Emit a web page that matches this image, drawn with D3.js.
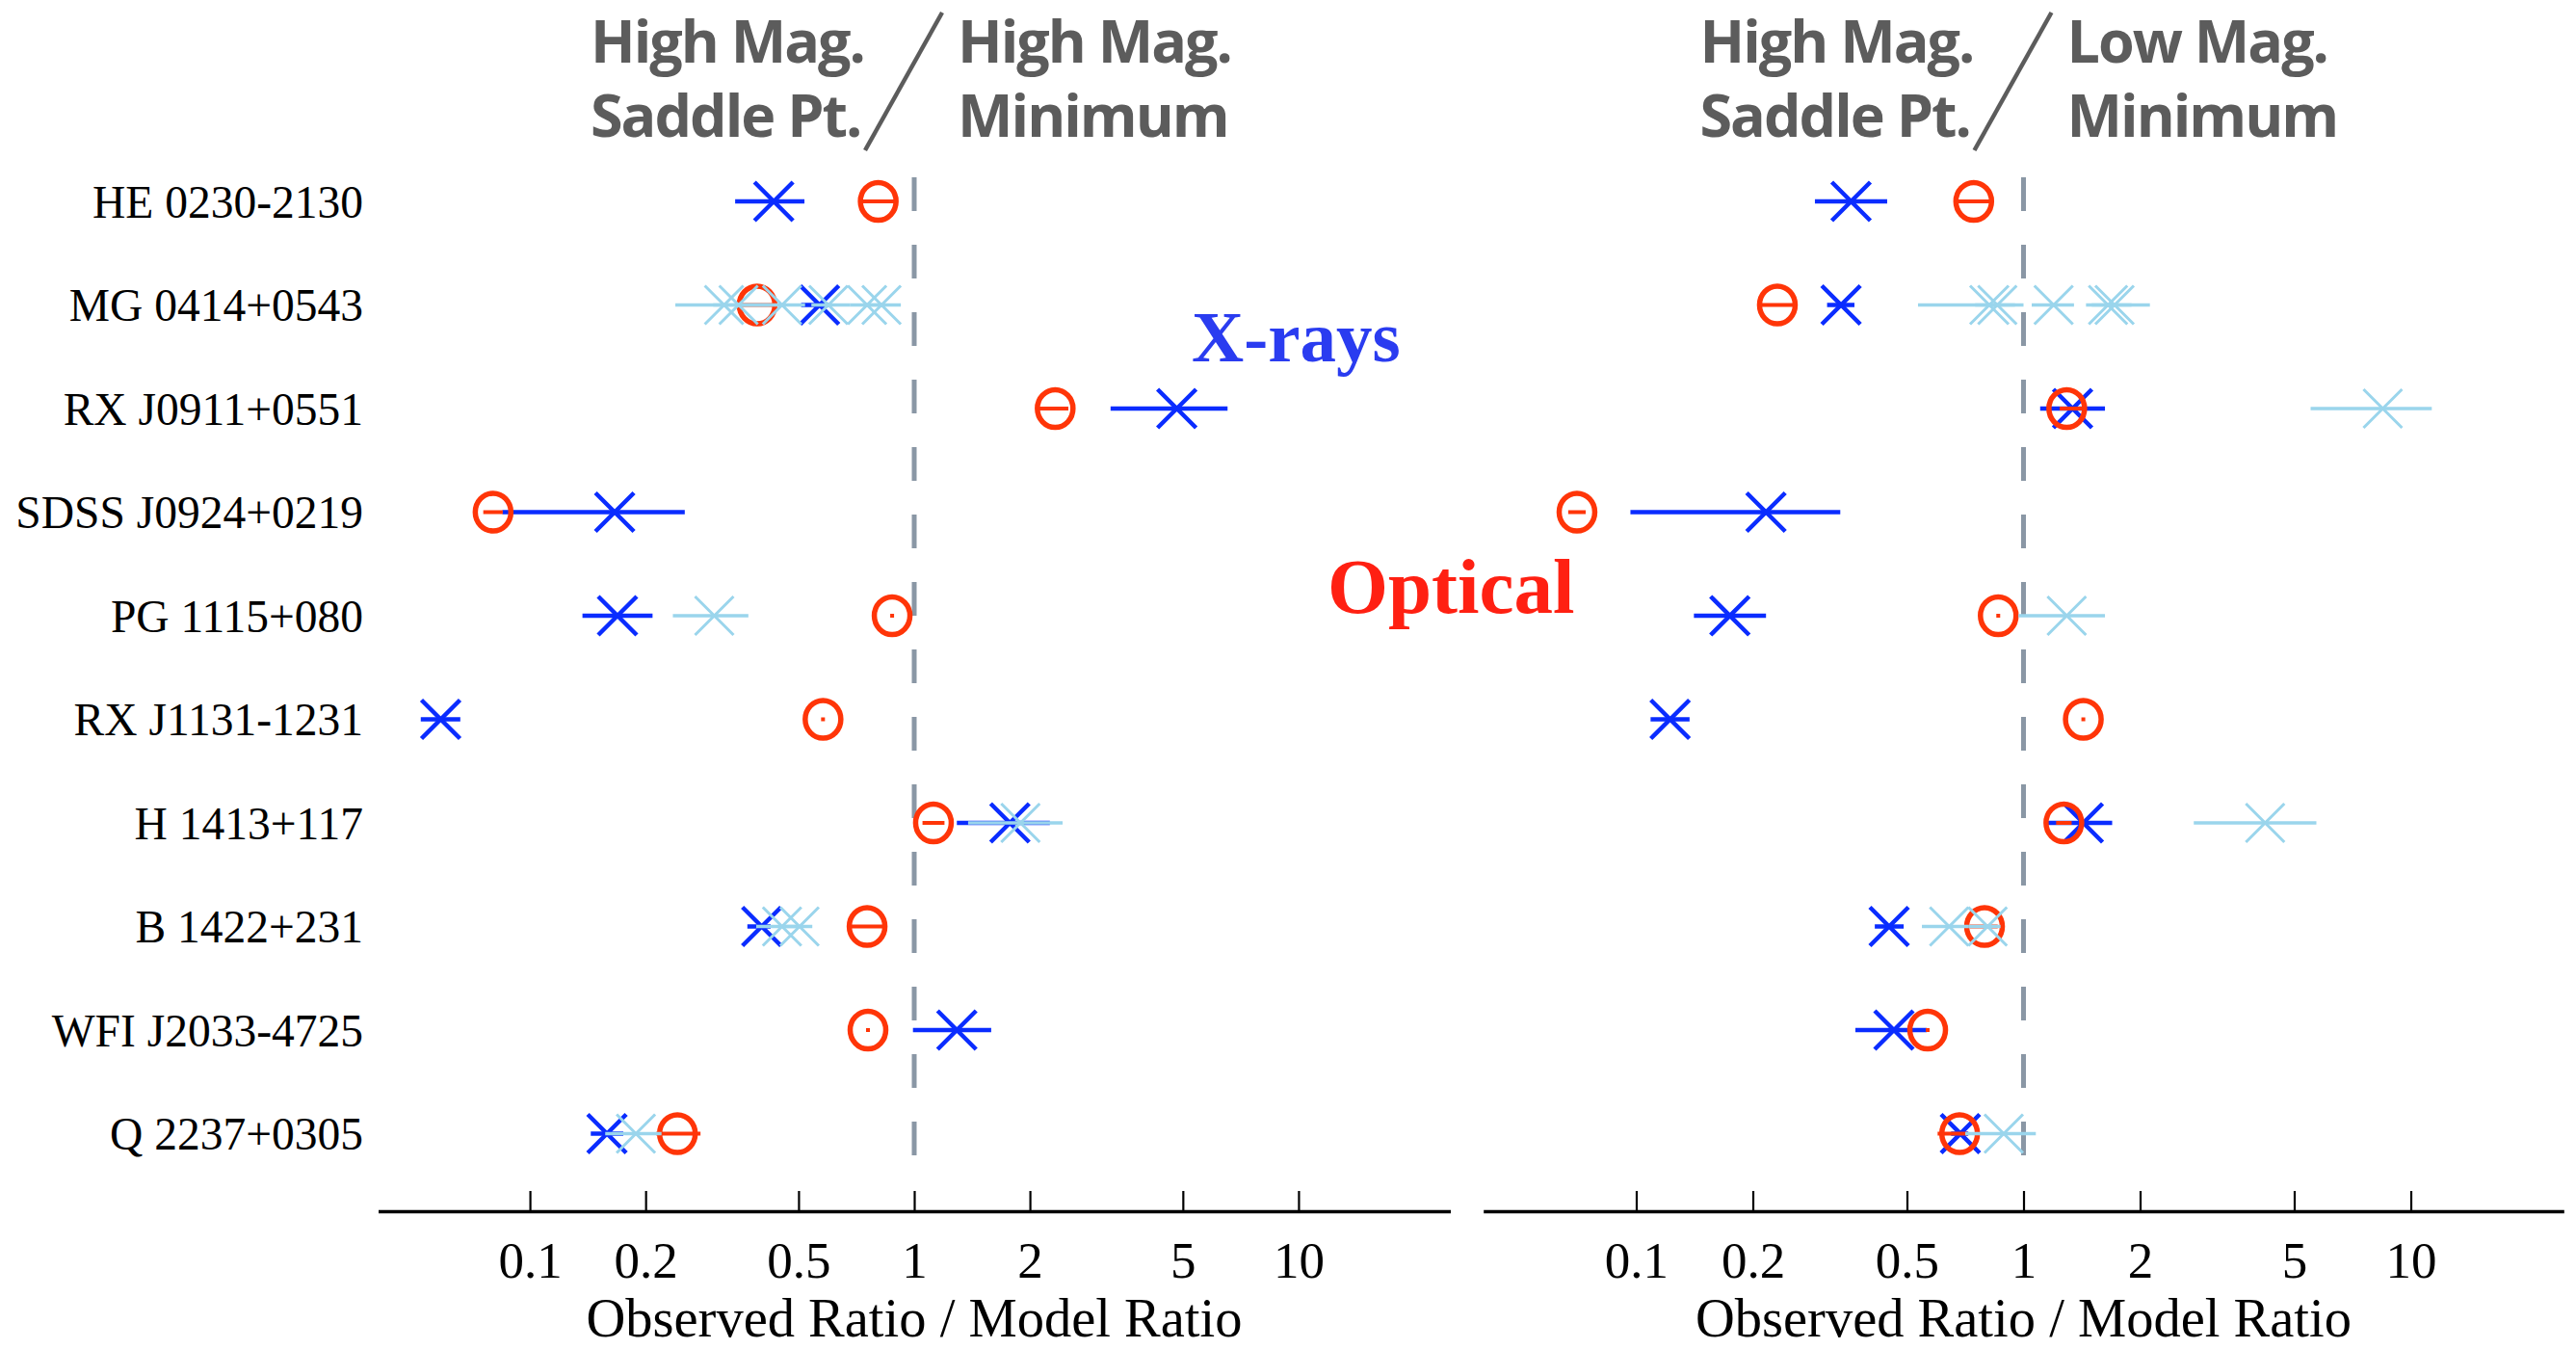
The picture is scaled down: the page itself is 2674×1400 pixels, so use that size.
<!DOCTYPE html>
<html>
<head>
<meta charset="utf-8">
<script src="https://cdn.jsdelivr.net/npm/d3@7"></script>
<style>
  body { margin: 0; background: #ffffff; }
  svg { display: block; }
</style>
</head>
<body>
<svg id="chart" width="2674" height="1400"></svg>
<script>
// Lens systems, top to bottom
const lenses = [
  "HE 0230-2130", "MG 0414+0543", "RX J0911+0551", "SDSS J0924+0219",
  "PG 1115+080", "RX J1131-1231", "H 1413+117", "B 1422+231",
  "WFI J2033-4725", "Q 2237+0305"
];

const tickValues = [0.1, 0.2, 0.5, 1, 2, 5, 10];
const tickLabels = ["0.1", "0.2", "0.5", "1", "2", "5", "10"];
const axisTitle = "Observed Ratio / Model Ratio";

// Each entry: [ratio, lower bound, upper bound]

// Left panel: high-mag saddle point / high-mag minimum
const leftOptical = [
  [0.806, 0.731, 0.889], [0.390, 0.359, 0.436], [2.327, 2.142, 2.489],
  [0.0802, 0.0765, 0.084], [0.876, 0.876, 0.876], [0.579, 0.579, 0.579],
  [1.122, 1.063, 1.185], [0.754, 0.677, 0.840], [0.758, 0.758, 0.758],
  [0.242, 0.2157, 0.2747]
];
const leftXray = [
  [0.431, 0.342, 0.518], [0.567, 0.508, 0.598], [4.823, 3.243, 6.536],
  [0.1662, 0.0848, 0.2529], [0.169, 0.137, 0.2085], [0.0586, 0.052, 0.0659],
  [1.774, 1.291, 2.254], [0.401, 0.368, 0.423], [1.291, 0.9925, 1.586],
  [0.1587, 0.144, 0.175]
];
// Individual X-ray epochs
const leftXrayEpochs = [
  [],
  [[0.320, 0.239, 0.40], [0.349, 0.30, 0.42], [0.453, 0.40, 0.52],
   [0.598, 0.54, 0.68], [0.754, 0.68, 0.84], [0.822, 0.74, 0.923]],
  [],
  [],
  [[0.3018, 0.2355, 0.3702]],
  [],
  [[1.89, 1.381, 2.433]],
  [[0.453, 0.388, 0.50], [0.503, 0.45, 0.543]],
  [],
  [[0.1887, 0.157, 0.22]]
];

// Right panel: high-mag saddle point / low-mag minimum
const rightOptical = [
  [0.7437, 0.674, 0.8175], [0.2314, 0.2124, 0.2522], [1.293, 1.254, 1.406],
  [0.0703, 0.0675, 0.0732], [0.8605, 0.8605, 0.8605], [1.427, 1.427, 1.427],
  [1.271, 1.228, 1.316], [0.793, 0.735, 0.848], [0.5656, 0.5656, 0.5656],
  [0.684, 0.607, 0.707]
];
const rightXray = [
  [0.3587, 0.2893, 0.4446], [0.338, 0.311, 0.366], [1.339, 1.104, 1.623],
  [0.2163, 0.0966, 0.3364], [0.1745, 0.1409, 0.2163], [0.1223, 0.1089, 0.1373],
  [1.427, 1.152, 1.694], [0.4498, 0.413, 0.4904], [0.4628, 0.368, 0.5623],
  [0.687, 0.65, 0.72]
];
const rightXrayEpochs = [
  [],
  [[0.816, 0.534, 0.95], [0.856, 0.75, 1.0], [1.196, 1.05, 1.35],
   [1.653, 1.45, 1.9], [1.718, 1.5, 2.12]],
  [[8.465, 5.512, 11.33]],
  [],
  [[1.293, 0.97, 1.623]],
  [],
  [[4.206, 2.752, 5.704]],
  [[0.6427, 0.5466, 0.72], [0.808, 0.72, 0.8725]],
  [],
  [[0.889, 0.707, 1.076]]
];

const leftHeadings = [["High Mag.", "Saddle Pt."], ["High Mag.", "Minimum"]];
const rightHeadings = [["High Mag.", "Saddle Pt."], ["Low Mag.", "Minimum"]];

const colors = {
  xray: "#0a2cff",
  epoch: "#9ad5ec",
  optical: "#ff3508",
  ref: "#8a97a5",
  heading: "#5c5c5c"
};

const svg = d3.select("#chart");
const serif = "'Liberation Serif', 'Times New Roman', serif";
const sans = "'Open Sans', 'Noto Sans', sans-serif";

const y = d3.scalePoint().domain(lenses).range([209, 1176.5]);
const axisY = 1257;
const domainLog = 1.395;

const panels = [
  { optical: leftOptical, xray: leftXray, epochs: leftXrayEpochs,
    range: [392.5, 1505.5], headings: leftHeadings },
  { optical: rightOptical, xray: rightXray, epochs: rightXrayEpochs,
    range: [1539.7, 2661.3], headings: rightHeadings }
];

// Row labels
svg.append("g")
  .selectAll("text")
  .data(lenses)
  .join("text")
  .attr("x", 377)
  .attr("y", d => y(d) + 16.5)
  .attr("text-anchor", "end")
  .style("font-family", serif)
  .style("font-size", "47.5px")
  .attr("fill", "#000")
  .text(d => d);

const xMark = "M-20,-20L20,20M-20,20L20,-20";

panels.forEach(p => {
  const x = d3.scaleLog()
    .domain([Math.pow(10, -domainLog), Math.pow(10, domainLog)])
    .range(p.range);
  const g = svg.append("g");
  const x1 = x(1);

  // Reference line at ratio = 1
  g.append("line")
    .attr("x1", x1).attr("x2", x1)
    .attr("y1", 184).attr("y2", 1199)
    .attr("stroke", colors.ref)
    .attr("stroke-width", 5)
    .attr("stroke-dasharray", "35 35");

  // Axis
  const axis = d3.axisBottom(x)
    .tickValues(tickValues)
    .tickFormat((d, i) => tickLabels[i])
    .tickSizeInner(-21)
    .tickSizeOuter(0);
  const ax = g.append("g").attr("transform", `translate(0,${axisY})`).call(axis);
  ax.select(".domain").attr("stroke", "#000").attr("stroke-width", 3.5);
  ax.selectAll(".tick line").attr("stroke", "#000").attr("stroke-width", 2.2);
  ax.selectAll(".tick text")
    .attr("y", 69).attr("dy", 0)
    .attr("fill", "#000")
    .style("font-family", serif)
    .style("font-size", "53px");

  g.append("text")
    .attr("x", x1).attr("y", 1387)
    .attr("text-anchor", "middle")
    .style("font-family", serif)
    .style("font-size", "56.5px")
    .attr("fill", "#000")
    .text(axisTitle);

  // Headings with a slash separator
  const hd = g.append("g").attr("fill", colors.heading)
    .style("font-family", sans).style("font-weight", 700)
    .style("font-size", "61px").style("letter-spacing", "-2px");
  hd.append("text").attr("x", x1 - 336).attr("y", 65).text(p.headings[0][0]);
  hd.append("text").attr("x", x1 - 336).attr("y", 142).text(p.headings[0][1]);
  hd.append("text").attr("x", x1 + 45).attr("y", 65).text(p.headings[1][0]);
  hd.append("text").attr("x", x1 + 45).attr("y", 142).text(p.headings[1][1]);
  g.append("line")
    .attr("x1", x1 + 29).attr("y1", 13)
    .attr("x2", x1 - 51).attr("y2", 156)
    .attr("stroke", colors.heading).attr("stroke-width", 4.5);

  // X-ray (combined) error bars and markers
  const xr = g.append("g");
  xr.selectAll("line")
    .data(p.xray)
    .join("line")
    .attr("x1", d => x(d[1])).attr("x2", d => x(d[2]))
    .attr("y1", (d, i) => y(lenses[i])).attr("y2", (d, i) => y(lenses[i]))
    .attr("stroke", colors.xray).attr("stroke-width", 4.5);
  xr.selectAll("path")
    .data(p.xray)
    .join("path")
    .attr("d", xMark)
    .attr("transform", (d, i) => `translate(${x(d[0])},${y(lenses[i])})`)
    .attr("stroke", colors.xray).attr("stroke-width", 4.5).attr("fill", "none");

  // Optical error bars and circles
  const op = g.append("g");
  op.selectAll("line")
    .data(p.optical)
    .join("line")
    .attr("x1", d => x(d[1])).attr("x2", d => x(d[2]))
    .attr("y1", (d, i) => y(lenses[i])).attr("y2", (d, i) => y(lenses[i]))
    .attr("stroke", colors.optical).attr("stroke-width", 4)
    .attr("stroke-linecap", "square");
  op.selectAll("ellipse")
    .data(p.optical)
    .join("ellipse")
    .attr("cx", d => x(d[0]))
    .attr("cy", (d, i) => y(lenses[i]))
    .attr("rx", 18.5).attr("ry", 19.5)
    .attr("fill", "none")
    .attr("stroke", colors.optical).attr("stroke-width", 5.5);

  // Individual X-ray epochs
  const epochs = p.epochs.flatMap((list, i) => list.map(d => ({ row: lenses[i], v: d })));
  const ep = g.append("g");
  ep.selectAll("line")
    .data(epochs)
    .join("line")
    .attr("x1", d => x(d.v[1])).attr("x2", d => x(d.v[2]))
    .attr("y1", d => y(d.row)).attr("y2", d => y(d.row))
    .attr("stroke", colors.epoch).attr("stroke-width", 3.5);
  ep.selectAll("path")
    .data(epochs)
    .join("path")
    .attr("d", xMark)
    .attr("transform", d => `translate(${x(d.v[0])},${y(d.row)})`)
    .attr("stroke", colors.epoch).attr("stroke-width", 3).attr("fill", "none");
});

// Band labels
svg.append("text")
  .attr("x", 1237).attr("y", 375)
  .style("font-family", serif).style("font-weight", 700).style("font-size", "75px")
  .attr("fill", "#2a3cf0")
  .text("X-rays");
svg.append("text")
  .attr("x", 1378).attr("y", 636)
  .style("font-family", serif).style("font-weight", 700).style("font-size", "81px")
  .attr("fill", "#ff2012")
  .text("Optical");
</script>
</body>
</html>
